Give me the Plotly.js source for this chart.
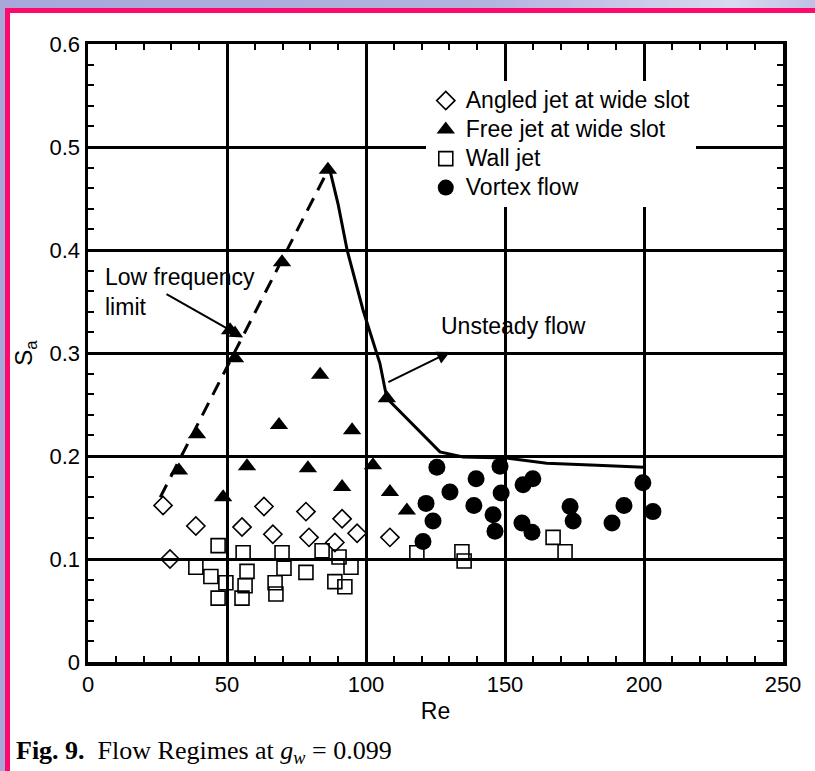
<!DOCTYPE html>
<html>
<head>
<meta charset="utf-8">
<script src="https://cdn.plot.ly/plotly-3.0.1.min.js"></script>
<style>
  html, body { margin: 0; padding: 0; }
  body { width: 815px; height: 771px; overflow: hidden; position: relative;
         background: linear-gradient(90deg, #a7a7da 0%, #b3b3e0 60%, #d8d8f0 90%, #c0c0e6 100%); }
  #chart { position: absolute; left: 5px; top: 8px; width: 805px; height: 758px;
           border-left: 5px solid #ff0a6c; border-top: 5px solid #ff0a6c; background: #fff; }
</style>
</head>
<body>
<div id="chart"></div>
<script>
// ---- data ----
const angledRe = [27, 29.5, 38.8, 55.4, 63.3, 66.5, 78.4, 79.5, 88.8, 91.4, 96.8, 108.6];
const angledSa = [0.152, 0.100, 0.132, 0.131, 0.151, 0.124, 0.146, 0.121, 0.116, 0.139, 0.125, 0.121];

const freeRe = [86.3, 69.8, 51.1, 52.9, 83.5, 68.7, 95.0, 39.2, 32.7, 57.2, 79.1, 102.5, 91.4, 48.6, 107.5, 108.6, 114.7];
const freeSa = [0.478, 0.388, 0.322, 0.295, 0.279, 0.230, 0.225, 0.221, 0.186, 0.190, 0.188, 0.191, 0.170, 0.160, 0.256, 0.165, 0.147];

const wallRe = [46.8, 38.8, 44.2, 49.6, 46.8, 55.8, 57.2, 56.5, 55.4, 69.8, 70.5, 67.3, 67.6, 78.4, 84.2, 90.3, 94.6, 88.8, 92.4, 118.3, 134.5, 135.3, 167.3, 171.6];
const wallSa = [0.113, 0.092, 0.083, 0.077, 0.062, 0.106, 0.088, 0.074, 0.062, 0.106, 0.091, 0.077, 0.066, 0.087, 0.108, 0.102, 0.092, 0.078, 0.073, 0.106, 0.107, 0.098, 0.121, 0.107];

const vortexRe = [125.5, 139.6, 130.2, 148.2, 148.6, 121.6, 138.8, 124.1, 145.7, 146.4, 120.5, 156.5, 160.0, 156.1, 159.7, 173.4, 174.5, 188.5, 192.8, 199.6, 203.2];
const vortexSa = [0.189, 0.178, 0.165, 0.190, 0.164, 0.154, 0.152, 0.137, 0.143, 0.127, 0.117, 0.172, 0.178, 0.135, 0.126, 0.151, 0.137, 0.135, 0.152, 0.174, 0.146];

const lowFreqRe = [26, 86.8];
const lowFreqSa = [0.160, 0.480];

const unsteadyRe = [86.8, 90, 93.2, 98.9, 105, 107.5, 126.6, 134.9, 150.7, 165, 183, 200];
const unsteadySa = [0.480, 0.444, 0.400, 0.342, 0.290, 0.256, 0.204, 0.199, 0.198, 0.193, 0.191, 0.189];

const seriesNames = ['Angled jet at wide slot', 'Free jet at wide slot', 'Wall jet', 'Vortex flow'];
const xTicks = [0, 50, 100, 150, 200, 250];
const yTicks = [0, 0.1, 0.2, 0.3, 0.4, 0.5, 0.6];

const F = 'Liberation Sans, Arial, Helvetica, sans-serif';
const legName = s => '<span style="font-size:23px">' + s + '</span>';

const traces = [
  { x: lowFreqRe, y: lowFreqSa, mode: 'lines', showlegend: false, hoverinfo: 'skip',
    line: { color: '#000', width: 3, dash: '14px,9px' } },
  { x: unsteadyRe, y: unsteadySa, mode: 'lines', showlegend: false, hoverinfo: 'skip',
    line: { color: '#000', width: 3 } },
  { x: angledRe, y: angledSa, mode: 'markers', name: legName(seriesNames[0]),
    marker: { symbol: 'diamond-open', size: 14, color: '#000', line: { width: 1.6, color: '#000' } } },
  { x: freeRe, y: freeSa, mode: 'markers', name: legName(seriesNames[1]),
    marker: { symbol: 'triangle-up', size: 16, color: '#000' } },
  { x: wallRe, y: wallSa, mode: 'markers', name: legName(seriesNames[2]),
    marker: { symbol: 'square-open', size: 14, color: '#000', line: { width: 1.6, color: '#000' } } },
  { x: vortexRe, y: vortexSa, mode: 'markers', name: legName(seriesNames[3]),
    marker: { symbol: 'circle', size: 17, color: '#000' } }
];

const axisCommon = {
  showline: true, linecolor: '#000', linewidth: 3.5, mirror: 'ticks',
  showgrid: true, gridcolor: '#000', gridwidth: 3,
  zeroline: false, ticks: 'inside', ticklen: 6, tickwidth: 2, tickcolor: '#000',
  tickfont: { family: F, size: 22, color: '#000' }
};

const layout = {
  width: 805, height: 758,
  margin: { l: 78, r: 32, t: 31, b: 109 },
  paper_bgcolor: '#fff', plot_bgcolor: '#fff',
  font: { family: F, color: '#000' },
  xaxis: Object.assign({}, axisCommon, {
    range: [0, 250], tickmode: 'array', tickvals: xTicks, ticktext: xTicks.map(String),
    minor: { dtick: 10, tick0: 0, ticks: 'inside', ticklen: 6, tickwidth: 2, tickcolor: '#000', showgrid: false },
    title: { text: 'Re', font: { family: F, size: 23, color: '#000' }, standoff: 8 }
  }),
  yaxis: Object.assign({}, axisCommon, {
    range: [0, 0.6], tickmode: 'array', tickvals: yTicks, ticktext: yTicks.map(String),
    minor: { dtick: 0.02, tick0: 0, ticks: 'inside', ticklen: 6, tickwidth: 2, tickcolor: '#000', showgrid: false },
    title: { text: 'S<sub>a</sub>', font: { family: F, size: 24, color: '#000' }, standoff: 13 }
  }),
  legend: {
    x: 0.486, y: 0.940, xanchor: 'left', yanchor: 'top',
    bgcolor: '#fff', borderwidth: 0,
    font: { family: F, size: 20, color: '#000' },
    itemsizing: 'trace',
    tracegroupgap: 0
  },
  annotations: [
    { x: 55.8, y: 0.315, ax: 27.7, ay: 0.358, axref: 'x', ayref: 'y', xref: 'x', yref: 'y',
      text: '', showarrow: true, arrowhead: 2, arrowsize: 1.3, arrowwidth: 2, arrowcolor: '#000' },
    { x: 130.2, y: 0.301, ax: 107.5, ay: 0.271, axref: 'x', ayref: 'y', xref: 'x', yref: 'y',
      text: '', showarrow: true, arrowhead: 2, arrowsize: 1.3, arrowwidth: 2, arrowcolor: '#000' },
    { x: 5.3, y: 0.388, xref: 'x', yref: 'y', xanchor: 'left', yanchor: 'top', align: 'left',
      text: 'Low frequency<br>limit', showarrow: false, font: { family: F, size: 23, color: '#000' } },
    { x: 126.4, y: 0.326, xref: 'x', yref: 'y', xanchor: 'left', yanchor: 'middle', align: 'left',
      text: 'Unsteady flow', showarrow: false, font: { family: F, size: 23, color: '#000' } },
    { x: -0.106, y: -0.145, xref: 'paper', yref: 'paper', xanchor: 'left', yanchor: 'middle', align: 'left',
      text: '<b>Fig. 9.</b>&nbsp; Flow Regimes at <i>g<sub>w</sub></i> = 0.099', showarrow: false,
      font: { family: 'Liberation Serif, Times New Roman, serif', size: 26, color: '#000' } }
  ]
};

Plotly.newPlot('chart', traces, layout, { displayModeBar: false, staticPlot: true });
</script>
</body>
</html>
